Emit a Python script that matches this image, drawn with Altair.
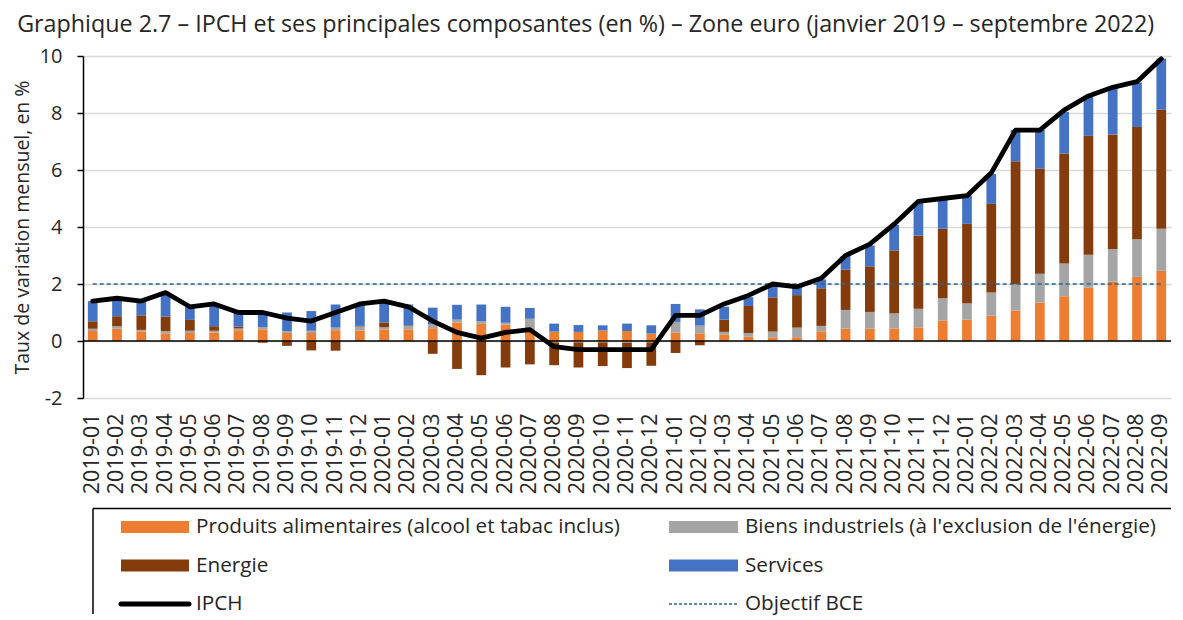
import altair as alt
import pandas as pd

# ---------------- data ----------------
months = [f"{y}-{m:02d}" for y in (2019, 2020, 2021, 2022) for m in range(1, 13)][:45]

food = [0.35, 0.43, 0.34, 0.27, 0.28, 0.30, 0.38, 0.41, 0.28, 0.28, 0.38, 0.37,
        0.41, 0.41, 0.45, 0.65, 0.60, 0.58, 0.42, 0.33, 0.32, 0.37, 0.35, 0.26,
        0.29, 0.27, 0.23, 0.15, 0.13, 0.13, 0.34, 0.43, 0.43, 0.44, 0.48, 0.71,
        0.75, 0.89, 1.07, 1.35, 1.57, 1.87, 2.08, 2.25, 2.46]
industrial = [0.08, 0.09, 0.05, 0.08, 0.08, 0.06, 0.06, 0.08, 0.06, 0.08, 0.09, 0.14,
              0.07, 0.12, 0.14, 0.10, 0.10, 0.06, 0.36, -0.05, -0.05, -0.05, -0.06, -0.05,
              0.38, 0.27, 0.09, 0.13, 0.20, 0.34, 0.19, 0.66, 0.59, 0.53, 0.65, 0.79,
              0.57, 0.81, 0.92, 1.01, 1.15, 1.16, 1.15, 1.32, 1.48]
energy = [0.26, 0.35, 0.51, 0.51, 0.38, 0.16, 0.07, -0.06, -0.17, -0.33, -0.34, 0.02,
          0.17, 0.02, -0.45, -0.98, -1.20, -0.93, -0.82, -0.80, -0.88, -0.83, -0.89, -0.82,
          -0.42, -0.15, 0.43, 0.95, 1.20, 1.14, 1.32, 1.41, 1.60, 2.21, 2.57, 2.44,
          2.79, 3.11, 4.32, 3.69, 3.86, 4.17, 4.02, 3.94, 4.18]
services = [0.71, 0.60, 0.48, 0.78, 0.45, 0.77, 0.49, 0.51, 0.66, 0.69, 0.81, 0.78,
            0.70, 0.73, 0.58, 0.52, 0.58, 0.56, 0.38, 0.28, 0.24, 0.18, 0.26, 0.29,
            0.63, 0.57, 0.45, 0.31, 0.43, 0.29, 0.31, 0.48, 0.73, 0.89, 1.16, 1.01,
            1.00, 1.05, 1.10, 1.36, 1.46, 1.37, 1.65, 1.56, 1.79]
ipch = [1.4, 1.5, 1.4, 1.7, 1.2, 1.3, 1.0, 1.0, 0.8, 0.7, 1.0, 1.3,
        1.4, 1.2, 0.7, 0.3, 0.1, 0.3, 0.4, -0.2, -0.3, -0.3, -0.3, -0.3,
        0.9, 0.9, 1.3, 1.6, 2.0, 1.9, 2.2, 3.0, 3.4, 4.1, 4.9, 5.0,
        5.1, 5.9, 7.4, 7.4, 8.1, 8.6, 8.9, 9.1, 9.9]
target = 2.0

comp_names = ["Produits alimentaires (alcool et tabac inclus)",
              "Biens industriels (à l'exclusion de l'énergie)",
              "Energie", "Services"]
comp_colors = ["#ED7D31", "#A5A5A5", "#843C0C", "#4472C4"]
line_names = ["IPCH", "Objectif  BCE"]
y_ticks = [-2, 0, 2, 4, 6, 8, 10]

title_text = ("Graphique 2.7 \u2013 IPCH et ses principales composantes (en %) \u2013 "
              "Zone euro (janvier 2019 \u2013 septembre 2022)")

# ---------------- tables ----------------
rows = []
for i, m in enumerate(months):
    for k, (name, vals) in enumerate(zip(comp_names, [food, industrial, energy, services])):
        rows.append({"month": m, "comp": name, "value": vals[i], "order": k})
bars_df = pd.DataFrame(rows)
line_df = pd.DataFrame({"month": months, "ipch": ipch, "target": [target] * len(months)})
zero_df = pd.DataFrame({"v": [0]})

FONT = "Open Sans"
TXT = "#262626"
W, H = 1088, 342

x_scale = alt.Scale(domain=months, paddingInner=0.6, paddingOuter=0.2)
y_scale = alt.Scale(domain=[-2, 10], nice=False, zero=False)

x_axis = alt.Axis(title=None, labelAngle=270, labelFontSize=21.5, labelPadding=15,
                  domain=False, ticks=False, grid=False, labelColor=TXT, labelFont=FONT)
y_axis = alt.Axis(title="Taux de variation mensuel, en %", values=y_ticks,
                  labelExpr="'' + datum.value", grid=True, gridColor="#d9d9d9",
                  gridWidth=1.5, domainColor="#000", domainWidth=1.5, tickColor="#000",
                  tickSize=6, tickWidth=1.5, labelFontSize=20, labelPadding=15,
                  titleFontSize=19.5, titleFontWeight="normal", titlePadding=7,
                  titleColor=TXT, labelColor=TXT, labelFont=FONT, titleFont=FONT)

bars = alt.Chart(bars_df).mark_bar().encode(
    x=alt.X("month:N", scale=x_scale, axis=x_axis),
    y=alt.Y("value:Q", stack="zero", scale=y_scale, axis=y_axis),
    color=alt.Color("comp:N", scale=alt.Scale(domain=comp_names, range=comp_colors), legend=None),
    order=alt.Order("order:Q", sort="ascending"),
)

zero_line = alt.Chart(zero_df).mark_rule(color="#000", strokeWidth=1.3).encode(
    y=alt.Y("v:Q", scale=y_scale)
)

target_line = alt.Chart(line_df).mark_line(color="#2E6190", strokeWidth=1.6,
                                           strokeDash=[4, 3]).encode(
    x=alt.X("month:N", scale=x_scale),
    y=alt.Y("target:Q", scale=y_scale),
)

ipch_line = alt.Chart(line_df).mark_line(color="#000", strokeWidth=4.8,
                                         strokeJoin="round", strokeCap="round").encode(
    x=alt.X("month:N", scale=x_scale),
    y=alt.Y("ipch:Q", scale=y_scale),
)

main = alt.layer(bars, zero_line, target_line, ipch_line).properties(width=W, height=H)

# ---------------- legend panel ----------------
LW, LH = W, 106
leg_df = pd.DataFrame({
    "label": comp_names + line_names,
    "col": [0, 1, 0, 1, 0, 1],
    "row": [0, 0, 1, 1, 2, 2],
    "kind": ["bar", "bar", "bar", "bar", "ipch", "target"],
})
base = alt.Chart(leg_df).transform_calculate(
    sx0="38 + datum.col * 548",
    sx1="106 + datum.col * 549",
    sy="19 + datum.row * 38.5",
    sy0="13 + datum.row * 38.5",
    sy1="25 + datum.row * 38.5",
    tx="113 + datum.col * 549",
)
swatches = base.transform_filter("datum.kind == 'bar'").mark_rect().encode(
    x=alt.X("sx0:Q", scale=None, axis=None), x2="sx1:Q",
    y=alt.Y("sy0:Q", scale=None, axis=None), y2="sy1:Q",
    color=alt.Color("label:N", scale=alt.Scale(domain=comp_names, range=comp_colors), legend=None),
)
ipch_sym = base.transform_filter("datum.kind == 'ipch'").mark_rule(
    color="#000", strokeWidth=5, strokeCap="round").encode(
    x=alt.X("sx0:Q", scale=None, axis=None), x2="sx1:Q",
    y=alt.Y("sy:Q", scale=None, axis=None),
)
target_sym = base.transform_filter("datum.kind == 'target'").mark_rule(
    color="#2E6190", strokeWidth=1.6, strokeDash=[3, 2]).encode(
    x=alt.X("sx0:Q", scale=None, axis=None), x2="sx1:Q",
    y=alt.Y("sy:Q", scale=None, axis=None),
)
labels = base.mark_text(align="left", baseline="middle", fontSize=20.7, font=FONT,
                        color=TXT).encode(
    x=alt.X("tx:Q", scale=None, axis=None),
    y=alt.Y("sy:Q", scale=None, axis=None),
    text="label:N",
)
frame_df = pd.DataFrame({"x0": [10, 10], "x1": [LW, 10], "y0": [0.5, 0.5], "y1": [0.5, LH]})
frame = alt.Chart(frame_df).mark_rule(color="#000", strokeWidth=1.5).encode(
    x=alt.X("x0:Q", scale=None, axis=None), x2="x1:Q",
    y=alt.Y("y0:Q", scale=None, axis=None), y2="y1:Q",
)
legend_panel = alt.layer(frame, swatches, ipch_sym, target_sym, labels).properties(
    width=LW, height=LH)

chart = alt.vconcat(main, legend_panel, spacing=13).properties(
    title=alt.TitleParams(title_text, anchor="start", fontSize=23.3, font=FONT,
                          fontWeight="normal", color=TXT, offset=9, dx=5),
    padding={"left": 4, "top": 4, "right": 0, "bottom": 0},
).configure(font=FONT).configure_view(stroke=None)

chart.save("out.html", embed_options={"renderer": "svg", "actions": False})
